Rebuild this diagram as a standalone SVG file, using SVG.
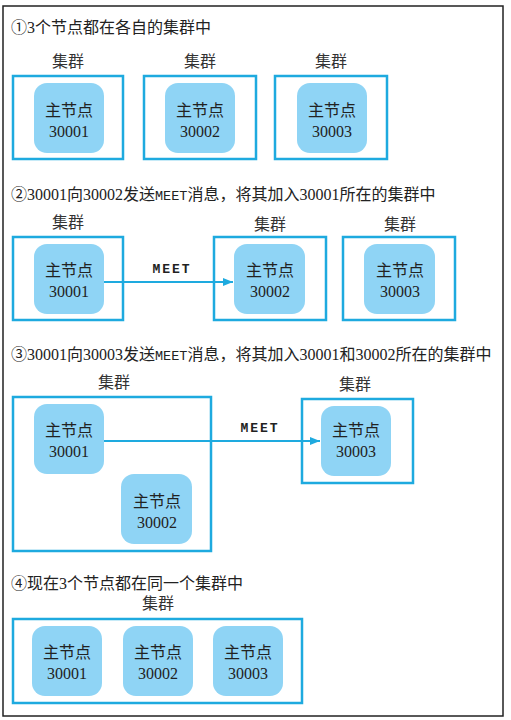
<svg xmlns="http://www.w3.org/2000/svg" width="511" height="720" viewBox="0 0 511 720">
<defs>
<style>
.frame{fill:#fff;stroke:#222;stroke-width:1.5}
.cl{fill:none;stroke:#1eaadf;stroke-width:2.5}
.nd{fill:#8fd4f5}
.h{font-family:"Liberation Serif","Noto Sans CJK SC",serif;font-size:16px;fill:#222}
.hm{font-family:"Liberation Mono",monospace;font-size:13.5px}
.nt{font-family:"Liberation Serif","Noto Sans CJK SC",serif;font-size:16px;fill:#222;text-anchor:middle}
.lb{font-family:"Liberation Serif","Noto Sans CJK SC",serif;font-size:16px;fill:#333;text-anchor:middle}
.meet{font-family:"Liberation Mono",monospace;font-size:13px;font-weight:bold;fill:#222;text-anchor:middle;letter-spacing:2px}
.ar{stroke:#1eaadf;stroke-width:2;fill:none}
</style>
<marker id="ah" viewBox="0 0 10 10" refX="10" refY="5" markerWidth="5" markerHeight="5" markerUnits="strokeWidth" orient="auto">
<path d="M0,1 L10,5 L0,9 z" fill="#1eaadf"/>
</marker>
</defs>
<rect class="frame" x="3" y="6" width="500" height="710"/>

<!-- Section 1 -->
<text class="h" x="11" y="33">①3个节点都在各自的集群中</text>
<g id="s1-cluster1">
<text class="lb" x="68" y="67">集群</text>
<rect class="cl" x="13" y="76" width="110" height="83"/>
</g>
<g id="s1-node30001">
<rect class="nd" x="34" y="83" width="70" height="70" rx="13"/>
<text class="nt" x="69" y="116">主节点</text>
<text class="nt" x="69" y="137">30001</text>
</g>
<g id="s1-cluster2">
<text class="lb" x="200" y="67">集群</text>
<rect class="cl" x="144" y="76" width="112" height="83"/>
</g>
<g id="s1-node30002">
<rect class="nd" x="165" y="83" width="70" height="70" rx="13"/>
<text class="nt" x="200" y="116">主节点</text>
<text class="nt" x="200" y="137">30002</text>
</g>
<g id="s1-cluster3">
<text class="lb" x="331" y="67">集群</text>
<rect class="cl" x="275" y="76" width="112" height="83"/>
</g>
<g id="s1-node30003">
<rect class="nd" x="297" y="83" width="70" height="70" rx="13"/>
<text class="nt" x="332" y="116">主节点</text>
<text class="nt" x="332" y="137">30003</text>
</g>

<!-- Section 2 -->
<text class="h" x="11" y="200">②30001向30002发送<tspan class="hm">MEET</tspan>消息，将其加入30001所在的集群中</text>
<g id="s2-cluster1">
<text class="lb" x="68" y="228">集群</text>
<rect class="cl" x="13" y="237" width="110" height="83"/>
</g>
<g id="s2-node30001">
<rect class="nd" x="34" y="244" width="70" height="70" rx="13"/>
<text class="nt" x="69" y="276">主节点</text>
<text class="nt" x="69" y="297">30001</text>
</g>
<g id="s2-cluster2">
<text class="lb" x="270" y="230">集群</text>
<rect class="cl" x="214" y="237" width="112" height="83"/>
</g>
<g id="s2-node30002">
<rect class="nd" x="234" y="244" width="71" height="70" rx="13"/>
<text class="nt" x="270" y="276">主节点</text>
<text class="nt" x="270" y="297">30002</text>
</g>
<g id="s2-cluster3">
<text class="lb" x="400" y="230">集群</text>
<rect class="cl" x="343" y="237" width="112" height="83"/>
</g>
<g id="s2-node30003">
<rect class="nd" x="364" y="244" width="71" height="70" rx="13"/>
<text class="nt" x="400" y="276">主节点</text>
<text class="nt" x="400" y="297">30003</text>
</g>

<!-- Section 3 -->
<text class="h" x="11" y="360">③30001向30003发送<tspan class="hm">MEET</tspan>消息，将其加入30001和30002所在的集群中</text>
<g id="s3-cluster1">
<text class="lb" x="114" y="388">集群</text>
<rect class="cl" x="13" y="397" width="198" height="154"/>
</g>
<g id="s3-node30001">
<rect class="nd" x="34" y="404" width="70" height="70" rx="13"/>
<text class="nt" x="69" y="436">主节点</text>
<text class="nt" x="69" y="457">30001</text>
</g>
<g id="s3-node30002">
<rect class="nd" x="121" y="474" width="71" height="70" rx="13"/>
<text class="nt" x="157" y="507">主节点</text>
<text class="nt" x="157" y="528">30002</text>
</g>
<g id="s3-cluster2">
<text class="lb" x="355" y="390">集群</text>
<rect class="cl" x="302" y="399" width="111" height="84"/>
</g>
<g id="s3-node30003">
<rect class="nd" x="321" y="406" width="70" height="70" rx="13"/>
<text class="nt" x="356" y="436">主节点</text>
<text class="nt" x="356" y="457">30003</text>
</g>

<!-- Section 4 -->
<text class="h" x="11" y="589">④现在3个节点都在同一个集群中</text>
<g id="s4-cluster">
<text class="lb" x="158" y="609">集群</text>
<rect class="cl" x="13" y="619" width="289" height="84"/>
</g>
<g id="s4-node30001">
<rect class="nd" x="32" y="626" width="70" height="70" rx="13"/>
<text class="nt" x="67" y="658">主节点</text>
<text class="nt" x="67" y="679">30001</text>
</g>
<g id="s4-node30002">
<rect class="nd" x="123" y="626" width="70" height="70" rx="13"/>
<text class="nt" x="158" y="658">主节点</text>
<text class="nt" x="158" y="679">30002</text>
</g>
<g id="s4-node30003">
<rect class="nd" x="213" y="626" width="70" height="70" rx="13"/>
<text class="nt" x="248" y="658">主节点</text>
<text class="nt" x="248" y="679">30003</text>
</g>

<g id="connectors">
<line class="ar" x1="104" y1="282" x2="233" y2="282" marker-end="url(#ah)"/>
<text class="meet" x="172" y="273">MEET</text>
<line class="ar" x1="104" y1="441" x2="320" y2="441" marker-end="url(#ah)"/>
<text class="meet" x="260" y="432">MEET</text>
</g>
</svg>
